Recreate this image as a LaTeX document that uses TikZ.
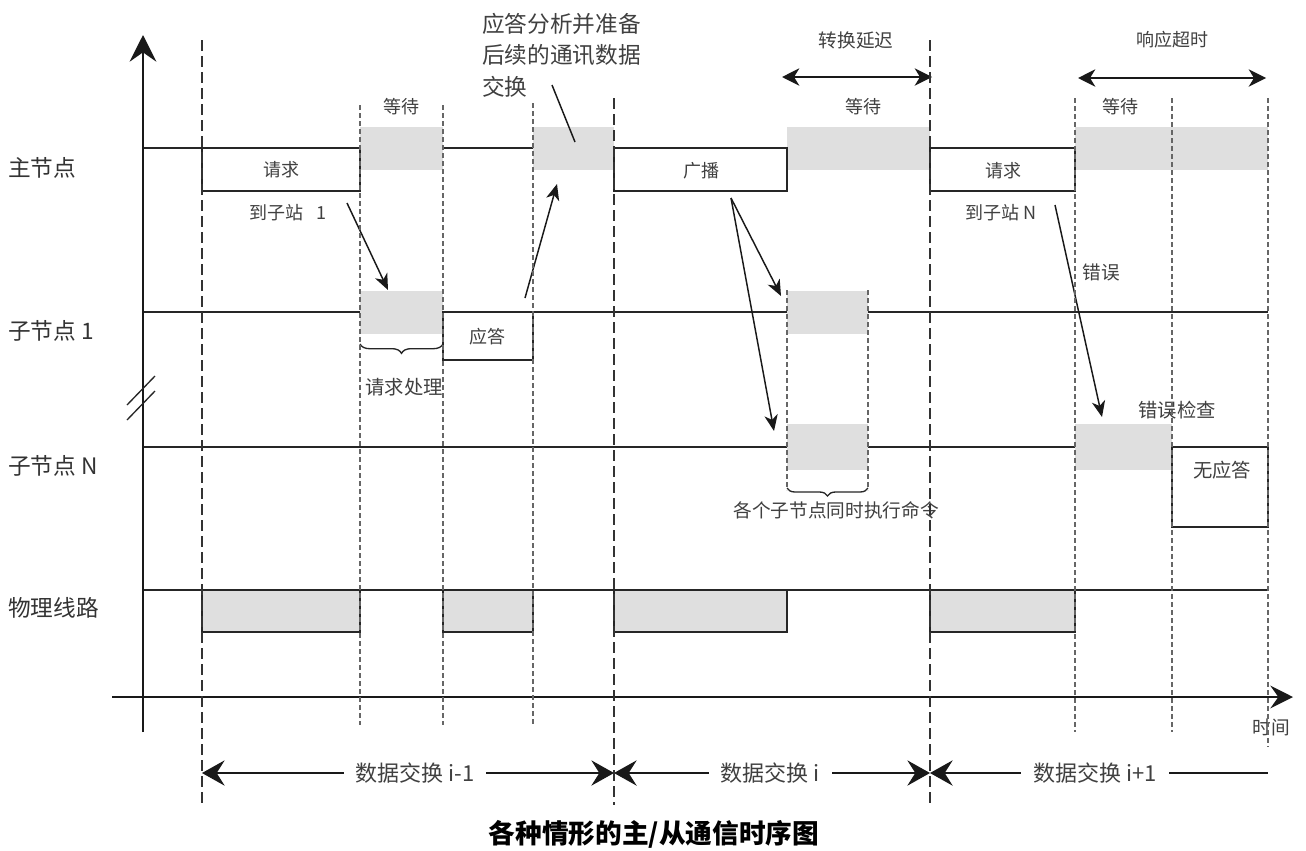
\documentclass[tikz,border=0pt]{standalone}
\usepackage{fontspec}
\setmainfont{Noto Sans CJK SC}
\usetikzlibrary{arrows.meta,decorations.pathreplacing}
\newcommand\mkrect[6]{\node[#1,minimum width={(#4-#2)*0.75pt},minimum height={(#5-#3)*0.75pt}] (#6) at (#2,#3) {};}
\begin{document}
\begin{tikzpicture}[x=0.75pt,y=-0.75pt,
  sig/.style={line width=1.1pt, draw=black!85},
  wbox/.style={draw=black!85, line width=1.3pt, fill=white, inner sep=0pt, outer sep=0pt, anchor=north west},
  pbox/.style={draw=black!85, line width=1.3pt, fill=gray!25, inner sep=0pt, outer sep=0pt, anchor=north west},
  band/.style={fill=gray!25, draw=none, inner sep=0pt, outer sep=0pt, anchor=north west},
  longdash/.style={draw=black!80, line width=0.9pt, dash pattern=on 8pt off 4pt},
  shortdash/.style={draw=black!60, line width=1pt, dash pattern=on 3.5pt off 2.5pt},
  lab/.style={inner sep=0pt, text=black!75, font=\fontsize{13.5}{16}\selectfont},
  rowlab/.style={inner sep=0pt, anchor=west, text=black!80, font=\fontsize{17}{20}\selectfont},
  btm/.style={inner xsep=9pt, inner ysep=2pt, fill=white, text=black!75, font=\fontsize{16.5}{19}\selectfont},
  ptr/.style={draw=black!90, line width=1.1pt, -{Stealth[length=12pt,width=10pt,inset=3.5pt]}},
  span/.style={draw=black!90, line width=1.1pt, {Stealth[length=13pt,width=13pt,inset=4pt]}-{Stealth[length=13pt,width=13pt,inset=4pt]}},
  bigtip/.style={draw=black!90, line width=1.1pt},
  brc/.style={draw=black!85, line width=1pt, decorate, decoration={brace, mirror, amplitude=7pt}}
]
\useasboundingbox (0,0) rectangle (1306,850);
\fill[white] (0,0) rectangle (1306,850);

% ---- row base lines
\draw[sig] (143,148) -- (1268,148);
\draw[sig] (143,312) -- (1268,312);
\draw[sig] (143,447) -- (1268,447);
\draw[sig] (143,590) -- (1268,590);

% ---- gray bands
\mkrect{band}{360}{127}{443}{170}{mw1}
\mkrect{band}{533}{127}{614}{170}{mw2}
\mkrect{band}{787}{127}{930}{170}{mw3}
\mkrect{band}{1075}{127}{1268}{170}{mw4}
\mkrect{band}{360}{291}{443}{334}{s1p}
\mkrect{band}{787}{291}{868}{334}{s1x}
\mkrect{band}{787}{424}{868}{470}{snx}
\mkrect{band}{1075}{424}{1172}{470}{snc}

% ---- boxes
\mkrect{wbox}{202}{148}{360}{191}{mreq1}
\mkrect{wbox}{614}{148}{787}{191}{mbc}
\mkrect{wbox}{930}{148}{1075}{191}{mreqN}
\mkrect{wbox}{443}{312}{533}{360}{s1resp}
\mkrect{wbox}{1172}{447}{1268}{527}{snno}
\mkrect{pbox}{202}{590}{360}{632}{p1}
\mkrect{pbox}{443}{590}{533}{632}{p2}
\mkrect{pbox}{614}{590}{787}{632}{p3}
\mkrect{pbox}{930}{590}{1075}{632}{p4}

% ---- axes
\coordinate (vax0) at (143,732);
\coordinate (vax1) at (143,35);
\coordinate (hax0) at (112,697);
\coordinate (hax1) at (1293,697);
\draw[draw=black!90, line width=1.4pt, -{Stealth[length=20pt,width=20pt,inset=7pt]}] (vax0) -- (vax1);
\draw[draw=black!90, line width=1.4pt, -{Stealth[length=17pt,width=17pt,inset=6pt]}] (hax0) -- (hax1);
\draw[draw=black!85, line width=1pt] (127,405) -- (155,376) (127,420) -- (155,391);

% ---- row labels
\node[rowlab] (lm)  at (8,168) {主节点};
\node[rowlab] (ls1) at (8,331) {子节点 1};
\node[rowlab] (lsn) at (8,466) {子节点 N};
\node[rowlab] (lph) at (8,608) {物理线路};

% ---- texts
\node[lab] (treq1) at (281,170) {请求};
\node[lab] (tto1) at (288,213) {到子站\hspace{0.7em}1};
\node[lab] (twait1) at (401,107) {等待};
\node[inner sep=0pt, anchor=north west, align=left, text=black!75, font=\fontsize{17}{23.5}\selectfont] (tana) at (482,13) {应答分析并准备\\后续的通讯数据\\交换};
\node[lab] (tbc) at (701,171) {广播};
\node[lab, font=\fontsize{14}{16}\selectfont] (tdelay) at (856,40) {转换延迟};
\node[lab] (twait2) at (863,107) {等待};
\node[lab] (treqN) at (1003,171) {请求};
\node[lab] (ttoN) at (1001,213) {到子站 N};
\node[lab] (ttimeout) at (1172,40) {响应超时};
\node[lab] (twait3) at (1120,107) {等待};
\node[lab, font=\fontsize{14}{16}\selectfont] (terr) at (1101,272) {错误};
\node[lab] (tresp) at (487,337) {应答};
\node[lab, font=\fontsize{14.5}{16}\selectfont] (tproc) at (404,387) {请求处理};
\node[lab, font=\fontsize{14.5}{16}\selectfont] (tchk) at (1177,410) {错误检查};
\node[lab, font=\fontsize{14.5}{16}\selectfont] (tno) at (1222,470) {无应答};
\node[lab, font=\fontsize{14}{16}\selectfont] (texec) at (836,510) {各个子节点同时执行命令};
\node[lab, font=\fontsize{14}{16}\selectfont] (ttime) at (1271,727) {时间};

% ---- braces
\draw[brc] (360,344) -- (443,344);
\draw[brc, decoration={brace, mirror, amplitude=6pt}] (787,488) -- (868,488);

% ---- pointer arrows
\coordinate (a1s) at (347,203); \coordinate (a1e) at (388,290);
\coordinate (a2s) at (525,298); \coordinate (a2e) at (557,184);
\coordinate (a3s) at (552,85);  \coordinate (a3e) at (575,142);
\coordinate (a4s) at (731,198); \coordinate (a4e) at (781,296);
\coordinate (a5s) at (731,198); \coordinate (a5e) at (774,431);
\coordinate (a6s) at (1055,205); \coordinate (a6e) at (1102,417);
\draw[ptr] (a1s) -- (a1e);
\draw[ptr] (a2s) -- (a2e);
\draw[draw=black!90, line width=1.1pt] (a3s) -- (a3e);
\draw[ptr] (a4s) -- (a4e);
\draw[ptr] (a5s) -- (a5e);
\draw[ptr] (a6s) -- (a6e);

% ---- span arrows at top
\coordinate (d0) at (782,77); \coordinate (d1) at (932,77);
\coordinate (r0) at (1078,78); \coordinate (r1) at (1266,78);
\draw[span] (d0) -- (d1);
\draw[span] (r0) -- (r1);

% ---- bottom exchange arrows
\coordinate (e0) at (202,773); \coordinate (e1) at (614,773);
\coordinate (e2) at (930,773); \coordinate (e3) at (1268,773);
\draw[bigtip, {Stealth[length=17pt,width=19pt,inset=6pt]}-{Stealth[length=17pt,width=19pt,inset=6pt]}] (e0) -- (e1);
\draw[bigtip, {Stealth[length=17pt,width=19pt,inset=6pt]}-{Stealth[length=17pt,width=19pt,inset=6pt]}] (e1) -- (e2);
\draw[bigtip, {Stealth[length=17pt,width=19pt,inset=6pt]}-] (e2) -- (e3);
\node[btm] (x1) at (415,773) {数据交换 i-1};
\node[btm] (x2) at (770,773) {数据交换 i};
\node[btm] (x3) at (1095,773) {数据交换 i+1};

% ---- dashed guide lines
\draw[longdash] (202,40) -- (202,805);
\draw[longdash] (614,98) -- (614,805);
\draw[longdash] (930,40) -- (930,805);
\draw[shortdash] (360,105) -- (360,725);
\draw[shortdash] (443,105) -- (443,725);
\draw[shortdash] (533,103) -- (533,725);
\draw[shortdash] (787,290) -- (787,490);
\draw[shortdash] (868,290) -- (868,490);
\draw[shortdash] (1075,98) -- (1075,732);
\draw[shortdash] (1172,98) -- (1172,732);
\draw[shortdash] (1268,98) -- (1268,747);

% ---- caption
\node[inner sep=0pt, font=\fontsize{20}{24}\selectfont\bfseries] (cap) at (654,834) {各种情形的主/从通信时序图};
\end{tikzpicture}
\end{document}
